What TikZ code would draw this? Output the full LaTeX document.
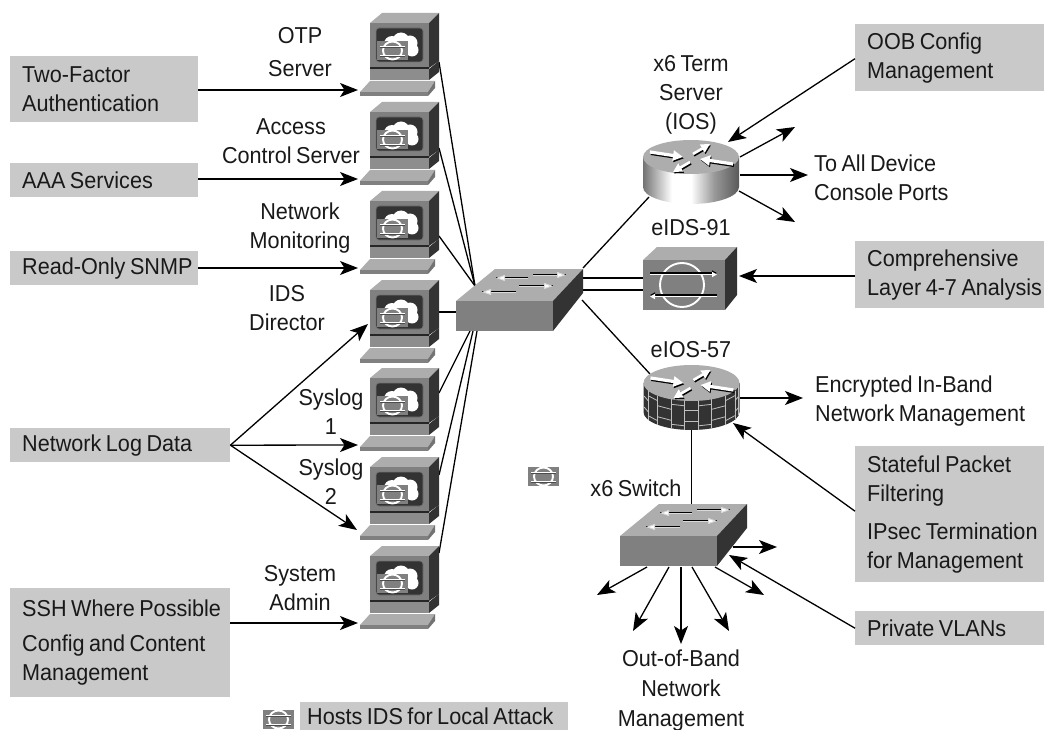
\documentclass[tikz,border=0pt]{standalone}
\usepackage{fontspec}
\setmainfont[FakeStretch=0.94,WordSpace=0.75]{Liberation Sans}
\usetikzlibrary{arrows.meta,backgrounds,calc}
\definecolor{boxgray}{HTML}{C9C9C9}
\definecolor{midgray}{HTML}{808080}
\definecolor{topgray}{HTML}{ADADAD}
\definecolor{darkside}{HTML}{333333}
\pgfdeclarehorizontalshading{rtrshade}{100bp}{color(0bp)=(black!55); color(25bp)=(black!55); color(40bp)=(white); color(50bp)=(white); color(62bp)=(black!40); color(75bp)=(black!65); color(100bp)=(black!65)}
\newcommand{\whitearrow}[4]{%
  \draw[black,line width=#3,-{Triangle[length=#4,width=#4]}] ([shift={(0.9,1.4)}]#1) -- ([shift={(0.9,1.4)}]#2);
  \draw[white,line width=#3,-{Triangle[length=#4,width=#4]}] (#1) -- (#2);}
\newcommand{\thinarrow}[2]{%
  \draw[black,line width=0.9pt] ([yshift=0.8pt]#1) -- ([yshift=0.8pt]#2);
  \draw[black!15,line width=0.9pt,-{Triangle[length=9pt,width=6pt,fill=white]}] (#1) -- (#2);}
\newcommand{\routertop}{%
  \whitearrow{-41,-5}{-8,0}{3.2pt}{10pt}
  \whitearrow{2,-3}{19,-13}{2.6pt}{9pt}
  \whitearrow{42,7}{9,2}{3.2pt}{10pt}
  \whitearrow{-1,5}{-18,15}{2.6pt}{9pt}}
\tikzset{
  x=1pt,y=-1pt,
  conn/.style={line width=1.3pt,draw=black,-{Stealth[length=18pt,width=14pt,inset=4.5pt]}},
  wire/.style={line width=1.3pt,draw=black},
  lbl/.style={font=\fontsize{23}{29}\selectfont,align=center,inner sep=0pt,text=black!90},
  graybox/.style={font=\fontsize{23}{29}\selectfont,anchor=north west,fill=boxgray,align=flush left,inner xsep=12pt,inner ysep=0pt,text=black!90},
  idsicon/.pic={
    \fill[midgray] (0,0) rectangle (31,19);
    \draw[white,line width=1.9pt] (15.5,9.5) ellipse [x radius=9.5pt,y radius=9pt];
    \draw[black!70,line width=0.5pt] (3,5.8) -- (28,5.8) (3,14.8) -- (28,14.8);
    \draw[white,line width=0.9pt] (3,5) -- (28,5) (3,14) -- (28,14);
  },
  ws/.pic={
    \coordinate (-in) at (-12,77);
    \coordinate (-side) at (-2,44);
    \fill[topgray] (0,10) -- (12,0) -- (69,0) -- (59,10) -- cycle;
    \fill[midgray] (0,10) rectangle (59,54);
    \fill[darkside] (59,10) -- (69,0) -- (69,48) -- (59,55) -- cycle;
    \fill[black!85] (0,54) rectangle (59,56);
    \fill[midgray!90] (0,56) rectangle (59,67);
    \fill[darkside] (59,56) -- (69,48) -- (69,59) -- (59,67) -- cycle;
    \fill[topgray] (-10,79) -- (0,68) -- (65,68) -- (58,79) -- cycle;
    \fill[midgray] (-10,79) rectangle (58,83);
    \fill[black!55] (58,79) -- (65,68) -- (65,75) -- (58,83) -- cycle;
    \draw[fill=darkside,draw=black!55,rounded corners=3pt,line width=0.7pt] (6,15) rectangle (53,49);
    \fill[white] (22,31) circle [radius=8pt] (31,28) circle [radius=8.5pt] (40,30) circle [radius=7.5pt] (42,37) circle [radius=6.5pt] (34,38) circle [radius=6pt];
    \pic at (7,28) {idsicon};
  },
  swi/.pic={
    \fill[topgray] (0,0) -- (39,-32) -- (127,-32) -- (97,0) -- cycle;
    \fill[midgray] (0,0) rectangle (97,30);
    \fill[darkside] (97,0) -- (127,-32) -- (127,-8) -- (97,30) -- cycle;
    \thinarrow{72,-23}{40,-23}
    \thinarrow{77,-26}{110,-26}
    \thinarrow{60,-9}{26,-9}
    \thinarrow{63,-15}{97,-15}
  },
  rtrsteel/.pic={
    \path[shading=rtrshade]
      (-48,0) -- (-48,30) arc[start angle=180,end angle=360,x radius=48pt,y radius=17pt] -- (48,0) -- cycle;
    \fill[topgray] (0,0) ellipse [x radius=48pt,y radius=17pt];
    \routertop
  },
  rtrfire/.pic={
    \fill[darkside] (-48,0) -- (-48,29) arc[start angle=180,end angle=360,x radius=48pt,y radius=18pt] -- (48,0) -- cycle;
    \foreach \a [remember=\a as \b (initially 190),count=\i] in {205,225,245,262,278,295,315,335,350} {
      \draw[black!25,line width=0.8pt] ({48*cos(\a)},{-18*sin(\a)}) -- ({48*cos(\a)},{29-18*sin(\a)});
      \pgfmathsetmacro{\off}{mod(\i,2)==0 ? 5 : 10}
      \draw[black!25,line width=0.8pt] ({48*cos(\b)},{\off-18*sin(\b)}) -- ({48*cos(\a)},{\off-18*sin(\a)});
      \pgfmathsetmacro{\offb}{mod(\i,2)==0 ? 25 : 21}
      \draw[black!25,line width=0.8pt] ({48*cos(\b)},{\offb-18*sin(\b)}) -- ({48*cos(\a)},{\offb-18*sin(\a)});
    }
    \fill[topgray] (0,0) ellipse [x radius=48pt,y radius=18pt];
    \routertop
  },
  idsbox/.pic={
    \fill[topgray] (0,0) -- (14,-13) -- (94,-13) -- (82,0) -- cycle;
    \fill[midgray] (0,0) rectangle (82,50);
    \fill[darkside] (82,0) -- (94,-13) -- (94,35) -- (82,50) -- cycle;
    \draw[white,line width=1.9pt] (39,25) ellipse [x radius=22pt,y radius=22pt];
    \draw[black,line width=1.6pt,-{Triangle[length=5pt,width=5pt]}] (7,13) -- (74,13);
    \draw[white,line width=1.4pt,-{Triangle[length=5pt,width=5pt]}] (7,14.5) -- (74,14.5);
    \draw[black,line width=1.6pt,-{Triangle[length=5pt,width=5pt]}] (74,35) -- (7,35);
    \draw[white,line width=1.4pt,-{Triangle[length=5pt,width=5pt]}] (74,36.5) -- (7,36.5);
  },
}
\begin{document}
\begin{tikzpicture}
\path[use as bounding box] (0,0) rectangle (1044,730);

% devices
\pic (w1) at (370,13) {ws};
\pic (w2) at (370,102) {ws};
\pic (w3) at (370,191) {ws};
\pic (w4) at (370,280) {ws};
\pic (w5) at (370,368) {ws};
\pic (w6) at (370,457) {ws};
\pic (w7) at (370,546) {ws};
\pic at (456,301) {swi};
\pic at (620,536) {swi};
\pic at (691,157) {rtrsteel};
\pic at (643,260) {idsbox};
\pic at (691.5,383) {rtrfire};
\pic at (528,467) {idsicon};
\pic at (263,710) {idsicon};

% ports
\coordinate (w6low) at (357,530);
\coordinate (swA) at (475,286);
\coordinate (swB) at (470,331);
\coordinate (swC) at (473,331);
\coordinate (swD) at (477,331);
\coordinate (swL) at (456,312);
\coordinate (swTR) at (583,268);
\coordinate (swBR) at (582,300);
\coordinate (swE1) at (583,278);
\coordinate (swE2) at (583,290);
\coordinate (w1p) at (439,62);
\coordinate (w2p) at (439,148);
\coordinate (w3p) at (439,236);
\coordinate (w4p) at (439,312);
\coordinate (w5p) at (439,393);
\coordinate (w6p) at (439,475);
\coordinate (w7p) at (439,553);
\coordinate (r1sw) at (649,197);
\coordinate (r1in) at (728,142);
\coordinate (r1a) at (740,157);
\coordinate (r1b) at (740,175);
\coordinate (r1c) at (739,191);
\coordinate (r1ta) at (795,127);
\coordinate (r1tb) at (808,175);
\coordinate (r1tc) at (795,222);
\coordinate (idsE1) at (643,278);
\coordinate (idsE2) at (643,290);
\coordinate (idsR) at (739,276);
\coordinate (r2sw) at (650,374);
\coordinate (r2out) at (740,398);
\coordinate (r2tout) at (803,398);
\coordinate (r2in) at (733,423);
\coordinate (r2bot) at (691.5,430);
\coordinate (s2top) at (691.5,505);
\coordinate (s2a) at (647,567);
\coordinate (s2b) at (669,567);
\coordinate (s2c) at (681,567);
\coordinate (s2d) at (692,567);
\coordinate (s2e) at (715,567);
\coordinate (s2f) at (733,547);
\coordinate (s2in) at (729,555);
\coordinate (t2a) at (597,595);
\coordinate (t2b) at (633,631);
\coordinate (t2c) at (681,644);
\coordinate (t2d) at (729,631);
\coordinate (t2e) at (764,595);
\coordinate (t2f) at (777,547);

% gray labels
\node[graybox,text width=164pt,minimum height=66pt] (tf) at (10,56) {Two-Factor\\Authentication};
\node[graybox,text width=164pt,minimum height=34pt] (aaa) at (10,163) {AAA Services};
\node[graybox,text width=164pt,minimum height=34pt] (snmp) at (10,251) {\mbox{Read-Only SNMP}};
\node[graybox,text width=196pt,minimum height=34pt] (nlog) at (10,428) {Network Log Data};
\node[graybox,text width=196pt,minimum height=109pt] (ssh) at (10,588) {\mbox{SSH Where Possible}\\[6pt]Config and Content\\Management};
\node[graybox,text width=244pt,minimum height=28pt] (hosts) at (300,702) {\mbox{\hspace{-5pt}Hosts IDS for Local Attack}};
\node[graybox,text width=165pt,minimum height=67pt] (oob) at (855,24) {OOB Config\\Management};
\node[graybox,text width=165pt,minimum height=67pt] (comp) at (855,241) {Comprehensive\\\mbox{Layer 4-7 Analysis}};
\node[graybox,text width=165pt,minimum height=136pt] (spf) at (855,446) {Stateful Packet\\Filtering\\[9pt]\mbox{IPsec Termination}\\for Management};
\node[graybox,text width=165pt,minimum height=34pt] (pvl) at (855,611) {Private VLANs};

% plain labels
\node[lbl] (l1) at (300,52) {OTP\\[4pt]Server};
\node[lbl] (l2) at (291,141) {Access\\Control Server};
\node[lbl] (l3) at (300,228) {Network\\Monitoring};
\node[lbl] (l4) at (287,308) {IDS\\Director};
\node[lbl] (l5) at (331,412) {Syslog\\1};
\node[lbl] (l6) at (331,482) {Syslog\\2};
\node[lbl] (l7) at (300,588) {System\\Admin};
\node[lbl] (l8) at (691,95) {x6 Term\\Server\\(IOS)};
\node[lbl] (l9) at (691,228) {eIDS-91};
\node[lbl] (l10) at (691,350) {eIOS-57};
\node[lbl] (l11) at (636,488) {x6 Switch};
\node[lbl] (l12) at (681,691) {Out-of-Band\\[1pt]Network\\[1pt]Management};
\node[lbl,align=left,anchor=west] (l13) at (814,178) {To All Device\\Console Ports};
\node[lbl,align=left,anchor=west] (l14) at (815,401) {Encrypted In-Band\\Network Management};

% connectors behind the devices
\begin{scope}[on background layer]
\fill[white] (0,0) rectangle (1044,730);
\draw[wire] (w1p) -- (swA);
\draw[wire] (w2p) -- (swA);
\draw[wire] (w3p) -- (swA);
\draw[wire] (w4p) -- (swL);
\draw[wire] (w5p) -- (swB);
\draw[wire] (w6p) -- (swC);
\draw[wire] (w7p) -- (swD);
\draw[wire] (swTR) -- (r1sw);
\draw[wire] (swBR) -- (r2sw);
\draw[wire] (swE1) -- (idsE1);
\draw[wire] (swE2) -- (idsE2);
\draw[wire] (r2bot) -- (s2top);
\end{scope}

% arrows
\draw[conn] (tf.east |- w1-in) -- (w1-in);
\draw[conn] (aaa.east |- w2-in) -- (w2-in);
\draw[conn] (snmp.east |- w3-in) -- (w3-in);
\draw[conn] (nlog.east) -- (w4-side);
\draw[conn] (nlog.east) -- (w5-in);
\draw[conn] (nlog.east) -- (w6low);
\draw[conn] (ssh.east |- w7-in) -- (w7-in);
\draw[conn] ($(oob.west)+(0,1)$) -- (r1in);
\draw[conn] (r1a) -- (r1ta);
\draw[conn] (r1b) -- (r1tb);
\draw[conn] (r1c) -- (r1tc);
\draw[conn] (comp.west |- idsR) -- (idsR);
\draw[conn] (r2out) -- (r2tout);
\draw[conn] ($(spf.west)+(0,-3)$) -- (r2in);
\draw[conn] (pvl.west) -- (s2in);
\draw[conn] (s2a) -- (t2a);
\draw[conn] (s2b) -- (t2b);
\draw[conn] (s2c) -- (t2c);
\draw[conn] (s2d) -- (t2d);
\draw[conn] (s2e) -- (t2e);
\draw[conn] (s2f) -- (t2f);
\end{tikzpicture}
\end{document}
